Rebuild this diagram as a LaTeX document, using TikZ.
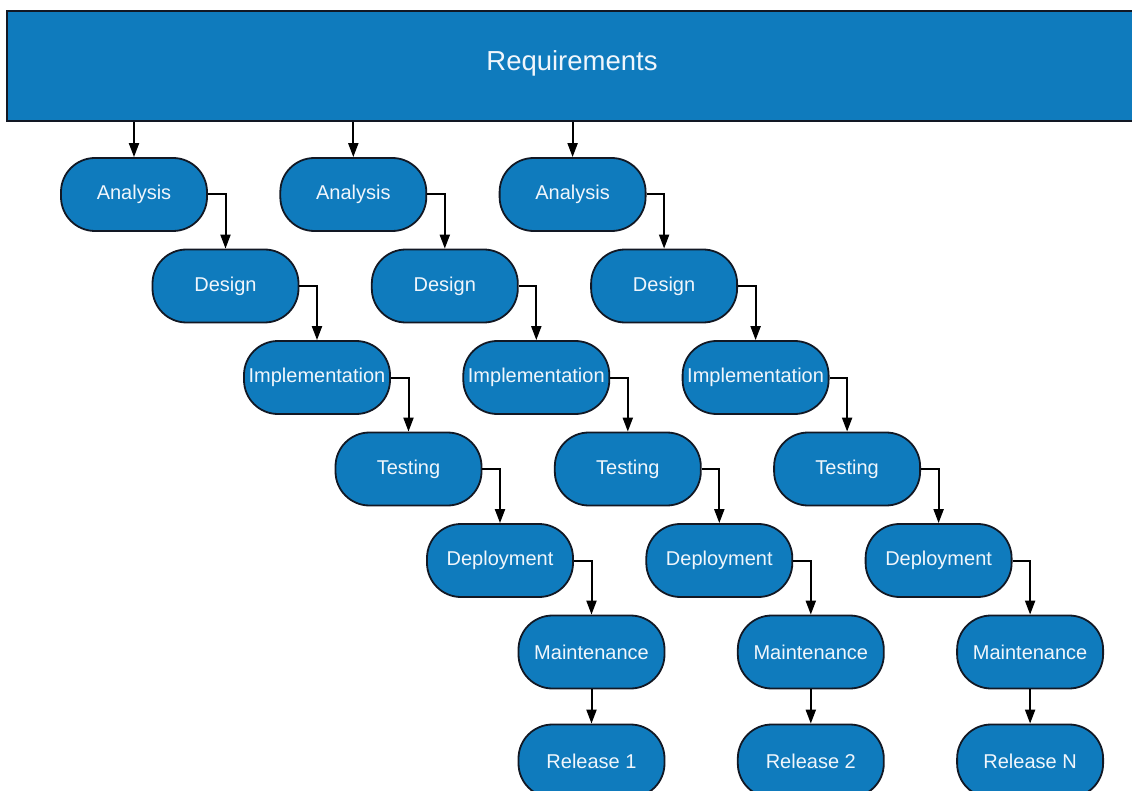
\documentclass[tikz,border=0pt]{standalone}
\usepackage{fontspec}
\setmainfont{Liberation Sans}
\usetikzlibrary{arrows.meta}
\definecolor{phaseblue}{RGB}{15,123,189}
\definecolor{edgeink}{RGB}{18,24,36}
\definecolor{labelwhite}{RGB}{240,246,252}
\tikzset{
  phase/.style={draw=edgeink, line width=1.8pt, fill=phaseblue, rounded corners=34pt,
    minimum width=146pt, minimum height=73pt, inner sep=0pt, text=labelwhite,
    font=\fontsize{20}{23}\selectfont},
  banner/.style={draw=edgeink, line width=2pt, fill=phaseblue, text=labelwhite,
    minimum width=1130pt, minimum height=110pt, inner sep=0pt,
    font=\fontsize{27}{32}\selectfont},
  flow/.style={line width=2pt, draw=black, -{Triangle[width=10pt,length=14pt]}}
}
\begin{document}
\begin{tikzpicture}[x=1pt,y=-1pt]
  \useasboundingbox (0,0) rectangle (1132,791);
  \begin{scope}
    \clip (0,0) rectangle (1132,791);
    \node[banner] (req) at (572,66) {};
    \node[text=labelwhite, font=\fontsize{27.5}{32}\selectfont] (reqlabel) at (572,63.5) {Requirements};
    \foreach \c/\rel in {0/1, 1/2, 2/N} {
      \pgfmathsetmacro{\xo}{134+219.3*\c}
      \foreach \k/\name/\txt in {0/an/Analysis, 1/de/Design, 2/im/Implementation,
                                 3/te/Testing, 4/dp/Deployment, 5/ma/Maintenance} {
        \node[phase] (\name\c) at ({\xo+91.5*\k},{194.5+91.5*\k}) {\txt};
      }
      \node[phase] (re\c) at ({\xo+457.5},761) {Release \rel};
      % banner feeds each analysis phase
      \draw[flow] (req.south -| an\c.north) -- (an\c.north);
      % staircase of elbow connectors
      \draw[flow] (an\c.east) -| (de\c.north);
      \draw[flow] (de\c.east) -| (im\c.north);
      \draw[flow] (im\c.east) -| (te\c.north);
      \draw[flow] (te\c.east) -| (dp\c.north);
      \draw[flow] (dp\c.east) -| (ma\c.north);
      \draw[flow] (ma\c.south) -- (re\c.north);
    }
  \end{scope}
\end{tikzpicture}
\end{document}
